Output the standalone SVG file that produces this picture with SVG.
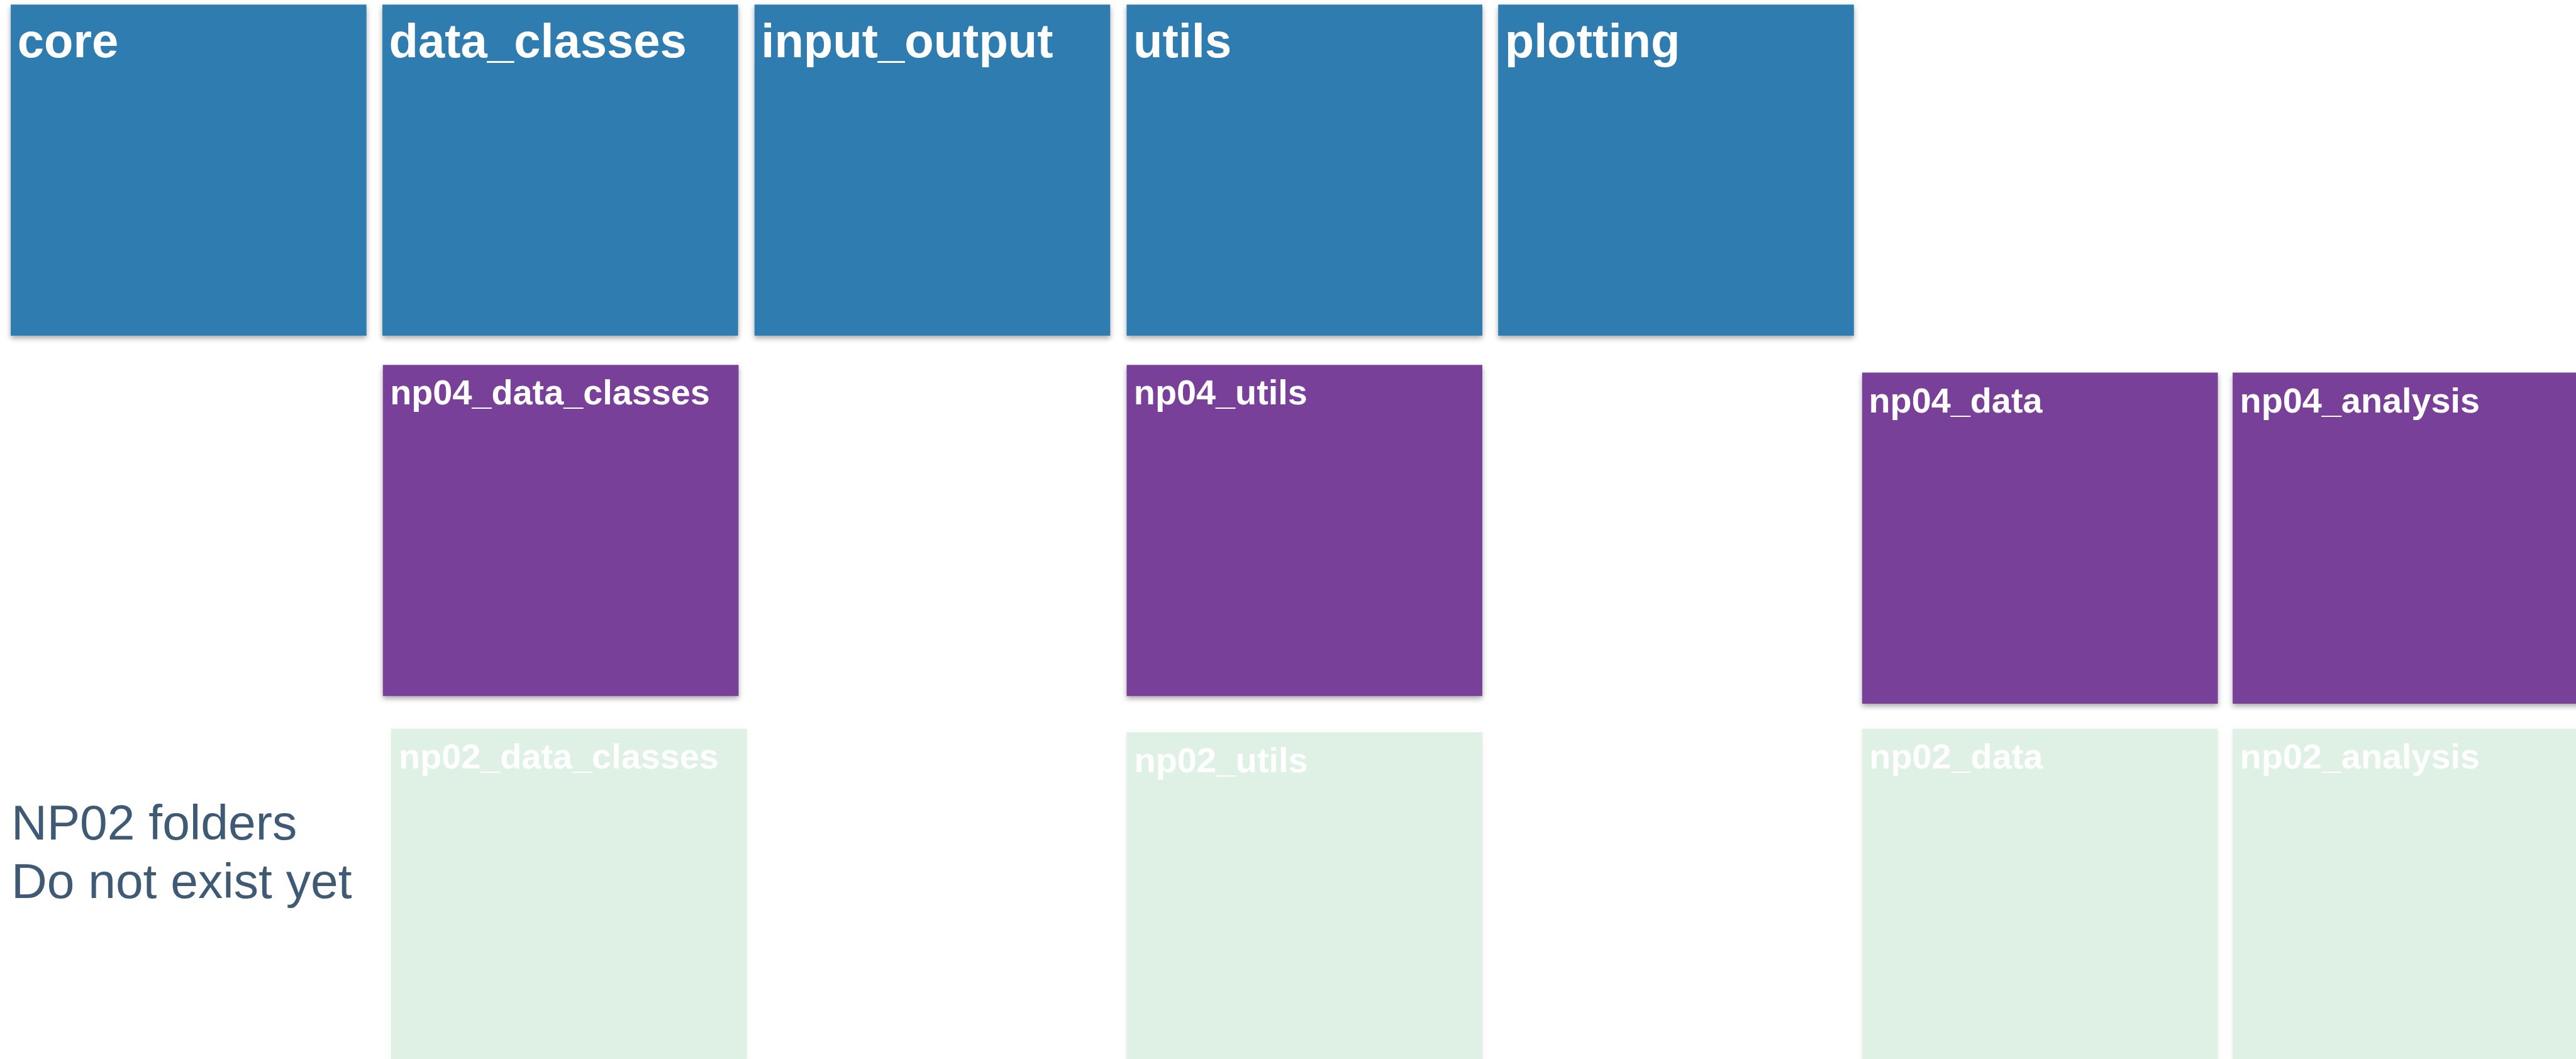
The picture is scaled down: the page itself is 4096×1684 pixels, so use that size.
<svg xmlns="http://www.w3.org/2000/svg" width="4096" height="1684" viewBox="0 0 4096 1684">
  <defs>
    <filter id="shadow" x="-5%" y="-5%" width="110%" height="112%">
      <feDropShadow dx="0" dy="4" stdDeviation="4" flood-color="#000000" flood-opacity="0.35"/>
    </filter>
    <filter id="shadowLight" x="-5%" y="-5%" width="110%" height="112%">
      <feDropShadow dx="0" dy="2" stdDeviation="3" flood-color="#000000" flood-opacity="0.08"/>
    </filter>
  </defs>
  <style>
    .blue { fill: #2e7cb0; }
    .purple { fill: #783f99; }
    .green { fill: #dff0e4; }
    .big { font-family: "Liberation Sans", Arial, Helvetica, sans-serif; font-weight: bold; font-size: 76px; fill: #ffffff; }
    .lbl { font-family: "Liberation Sans", Arial, Helvetica, sans-serif; font-weight: bold; font-size: 55.8px; fill: #ffffff; }
    .note { font-family: "Liberation Sans", Arial, Helvetica, sans-serif; font-size: 78.6px; fill: #3f5a75; }
  </style>
  <rect x="0" y="0" width="4096" height="1684" fill="#ffffff"/>

  <!-- Top row: blue modules -->
  <g id="core" filter="url(#shadow)">
    <rect class="blue" x="17.1" y="7.3" width="565.6" height="526.5"/>
    <text class="big" x="27.7" y="91.3">core</text>
  </g>
  <g id="data_classes" filter="url(#shadow)">
    <rect class="blue" x="608.0" y="7.3" width="565.6" height="526.5"/>
    <text class="big" x="618.6" y="91.3">data_classes</text>
  </g>
  <g id="input_output" filter="url(#shadow)">
    <rect class="blue" x="1199.7" y="7.3" width="565.6" height="526.5"/>
    <text class="big" x="1210.3" y="91.3">input_output</text>
  </g>
  <g id="utils" filter="url(#shadow)">
    <rect class="blue" x="1791.4" y="7.3" width="565.6" height="526.5"/>
    <text class="big" x="1802.0" y="91.3">utils</text>
  </g>
  <g id="plotting" filter="url(#shadow)">
    <rect class="blue" x="2382.2" y="7.3" width="565.6" height="526.5"/>
    <text class="big" x="2392.8" y="91.3">plotting</text>
  </g>

  <!-- Middle row: purple np04 folders -->
  <g id="np04_data_classes" filter="url(#shadow)">
    <rect class="purple" x="608.8" y="580.3" width="565.6" height="526.5"/>
    <text class="lbl" x="620.2" y="643.0">np04_data_classes</text>
  </g>
  <g id="np04_utils" filter="url(#shadow)">
    <rect class="purple" x="1791.4" y="580.3" width="565.6" height="526.5"/>
    <text class="lbl" x="1802.8" y="643.0">np04_utils</text>
  </g>
  <g id="np04_data" filter="url(#shadow)">
    <rect class="purple" x="2960.9" y="592.5" width="565.6" height="526.5"/>
    <text class="lbl" x="2971.5" y="656.1">np04_data</text>
  </g>
  <g id="np04_analysis" filter="url(#shadow)">
    <rect class="purple" x="3550.1" y="592.5" width="565.6" height="526.5"/>
    <text class="lbl" x="3561.6" y="656.1">np04_analysis</text>
  </g>

  <!-- Bottom row: green np02 folders (do not exist yet) -->
  <g id="np02_data_classes" filter="url(#shadowLight)">
    <rect class="green" x="621.8" y="1158.9" width="565.6" height="526.5"/>
    <text class="lbl" x="634.1" y="1221.7">np02_data_classes</text>
  </g>
  <g id="np02_utils" filter="url(#shadowLight)">
    <rect class="green" x="1791.4" y="1164.6" width="565.6" height="526.5"/>
    <text class="lbl" x="1803.6" y="1228.2">np02_utils</text>
  </g>
  <g id="np02_data" filter="url(#shadowLight)">
    <rect class="green" x="2960.9" y="1158.9" width="565.6" height="526.5"/>
    <text class="lbl" x="2972.3" y="1221.7">np02_data</text>
  </g>
  <g id="np02_analysis" filter="url(#shadowLight)">
    <rect class="green" x="3550.1" y="1158.9" width="565.6" height="526.5"/>
    <text class="lbl" x="3561.6" y="1221.7">np02_analysis</text>
  </g>

  <g id="note">
    <text class="note" x="17.9" y="1335.0">NP02 folders</text>
    <text class="note" x="17.9" y="1427.9">Do not exist yet</text>
  </g>

  <g id="connectors"></g>
</svg>
